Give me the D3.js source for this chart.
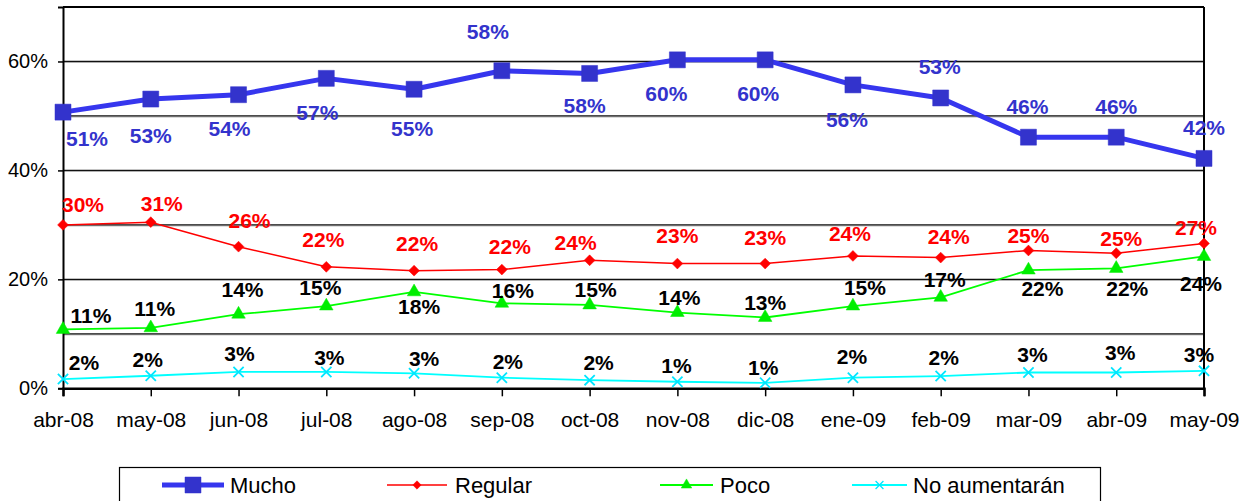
<!DOCTYPE html>
<html><head><meta charset="utf-8">
<script src="https://cdn.jsdelivr.net/npm/d3@7"></script>
<style>
html,body{margin:0;padding:0;background:#fff;}
svg{display:block;font-family:"Liberation Sans",Arial,sans-serif;}
</style></head>
<body><svg id="c" width="1252" height="501"></svg>
<script>
const categories = ["abr-08","may-08","jun-08","jul-08","ago-08","sep-08","oct-08","nov-08","dic-08","ene-09","feb-09","mar-09","abr-09","may-09"];
const mucho    = [50.7,53.1,53.9,56.9,54.9,58.3,57.8,60.3,60.3,55.7,53.3,46.1,46.1,42.2];
const regular  = [30.0,30.5,26.0,22.3,21.6,21.8,23.5,22.9,22.9,24.3,24.0,25.3,24.8,26.6];
const poco     = [10.8,11.1,13.6,15.1,17.7,15.6,15.3,13.9,13.0,15.1,16.7,21.7,22.0,24.2];
const noAument = [1.7,2.3,3.0,3.0,2.75,1.95,1.5,1.2,1.0,1.95,2.25,2.9,2.9,3.2];
const seriesNames = ["Mucho","Regular","Poco","No aumentarán"];
const yTicks = [0,20,40,60];
const yGrid = [10,20,30,40,50,60];

// label offsets (pixels, relative to point)
const muchoLbl = [[24,26],[0,36],[-9,34],[-9,34],[-2,39],[-14,-39],[-5,32],[-11,34],[-7,34],[-6,35],[-1,-32],[-1,-31],[0,-31],[0,-31]];
const regLbl   = [[20,-20],[11,-19],[11,-26],[-3,-27],[3,-27],[8,-23],[-14,-18],[0,-28],[0,-26],[-3,-22],[8,-21],[0,-15],[5,-15],[-8,-16]];
const pocoLbl  = [[28,-14],[4,-19],[4,-25],[-6,-19],[5,15],[11,-13],[6,-16],[2,-15],[0,-15],[12,-19],[4,-18],[14,18],[11,20],[-3,27]];
const noLbl    = [[21,-17],[-3,-16],[1,-19],[3,-15],[10,-15],[6,-16],[9,-18],[-1,-16],[-2,-15],[-1,-21],[3,-19],[4,-18],[4,-20],[-5,-16]];

const svg = d3.select("#c");
const L = 63, R = 1204, T = 7, B = 388.3;
const x = d3.scalePoint().domain(categories).range([L, R]);
const y = d3.scaleLinear().domain([0, 70]).range([B, T]);

// gridlines
const g = svg.append("g");
yGrid.forEach(v => {
  g.append("line").attr("x1", L).attr("x2", R).attr("y1", y(v)+1).attr("y2", y(v)+1).attr("stroke", "#aaa").attr("stroke-width", 1);
  g.append("line").attr("x1", L).attr("x2", R).attr("y1", y(v)).attr("y2", y(v)).attr("stroke", "#111").attr("stroke-width", 1.2);
});
// plot border top/right
svg.append("line").attr("x1", L).attr("x2", R).attr("y1", T).attr("y2", T).attr("stroke", "#000").attr("stroke-width", 2);
svg.append("line").attr("x1", R).attr("x2", R).attr("y1", T).attr("y2", B).attr("stroke", "#000").attr("stroke-width", 2);

// axes
const yAxis = d3.axisLeft(y).tickValues(yTicks).tickFormat(d => d + "%").tickSize(5).tickPadding(10);
const ya = svg.append("g").attr("transform", `translate(${L},0)`).call(yAxis);
ya.select(".domain").attr("stroke", "#000").attr("stroke-width", 2);
ya.selectAll(".tick line").attr("stroke", "#000").attr("stroke-width", 1.5);
ya.selectAll(".tick text").attr("font-size", 20).attr("fill", "#000").attr("font-family", "Liberation Sans, Arial, sans-serif");

const xAxis = d3.axisBottom(x).tickSize(8).tickPadding(16);
const xa = svg.append("g").attr("transform", `translate(0,${B})`).call(xAxis);
xa.select(".domain").attr("stroke", "#000").attr("stroke-width", 2.5);
xa.selectAll(".tick line").attr("stroke", "#000").attr("stroke-width", 1.5);
xa.selectAll(".tick text").attr("font-size", 21).attr("fill", "#000").attr("font-family", "Liberation Sans, Arial, sans-serif");

const line = d3.line().x((d, i) => x(categories[i])).y(d => y(d));

function symbolPath(kind, size) {
  if (kind === "square") return d3.symbol(d3.symbolSquare, size)();
  if (kind === "diamond") return d3.symbol(d3.symbolDiamond2, size)();
  if (kind === "triangle") return d3.symbol(d3.symbolTriangle, size)();
  if (kind === "x") return d3.symbol(d3.symbolTimes, size)();
}

const series = [
  {name: seriesNames[3], vals: noAument, color: "#00FFFF", mcolor: "#00E5FF", width: 1.8, kind: "x", size: 70, lbl: noLbl, lblColor: "#000"},
  {name: seriesNames[2], vals: poco, color: "#00FF00", mcolor: "#00EE00", width: 1.8, kind: "triangle", size: 80, lbl: pocoLbl, lblColor: "#000"},
  {name: seriesNames[1], vals: regular, color: "#FF0000", mcolor: "#FF0000", width: 1.5, kind: "diamond", size: 75, lbl: regLbl, lblColor: "#FF0000"},
  {name: seriesNames[0], vals: mucho, color: "#3636EE", mcolor: "#3333CC", width: 5, kind: "square", size: 256, lbl: muchoLbl, lblColor: "#3333CC"}
];

series.forEach(s => {
  svg.append("path").datum(s.vals).attr("d", line).attr("fill", "none").attr("stroke", s.color).attr("stroke-width", s.width).attr("stroke-linejoin", "round");
  svg.selectAll(null).data(s.vals).enter().append("path")
    .attr("transform", (d, i) => `translate(${x(categories[i])},${y(d)})`)
    .attr("d", symbolPath(s.kind, s.size))
    .attr("fill", s.kind === "x" ? "none" : s.mcolor)
    .attr("stroke", s.mcolor)
    .attr("stroke-width", s.kind === "x" ? 1.8 : 0.5);
});
series.forEach(s => {
  svg.selectAll(null).data(s.vals).enter().append("text")
    .attr("x", (d, i) => x(categories[i]) + s.lbl[i][0])
    .attr("y", (d, i) => y(d) + s.lbl[i][1])
    .attr("dy", "0.36em")
    .attr("text-anchor", "middle")
    .attr("font-size", 21).attr("font-weight", "bold")
    .attr("fill", s.lblColor)
    .text(d => Math.round(d) + "%");
});

// legend
const lg = svg.append("g");
lg.append("rect").attr("x", 119.5).attr("y", 467.5).attr("width", 981).attr("height", 50).attr("fill", "#fff").attr("stroke", "#000").attr("stroke-width", 1.2);
const legendItems = [
  {s: series[3], x1: 162, x2: 224, tx: 230},
  {s: series[2], x1: 387, x2: 447, tx: 455},
  {s: series[1], x1: 660, x2: 713, tx: 720},
  {s: series[0], x1: 852, x2: 907, tx: 913}
];
const ly = 485;
legendItems.forEach(it => {
  const s = it.s;
  lg.append("line").attr("x1", it.x1).attr("x2", it.x2).attr("y1", ly).attr("y2", ly).attr("stroke", s.color).attr("stroke-width", s.width);
  const sz = s.kind === "square" ? 256 : s.size * 0.6;
  lg.append("path").attr("transform", `translate(${(it.x1 + it.x2) / 2},${ly})`)
    .attr("d", symbolPath(s.kind, sz))
    .attr("fill", s.kind === "x" ? "none" : s.mcolor)
    .attr("stroke", s.mcolor).attr("stroke-width", s.kind === "x" ? 1.3 : 0.5);
  lg.append("text").attr("x", it.tx).attr("y", ly).attr("dy", "0.36em").attr("font-size", 22).attr("fill", "#000").text(s.name);
});
</script></body></html>
